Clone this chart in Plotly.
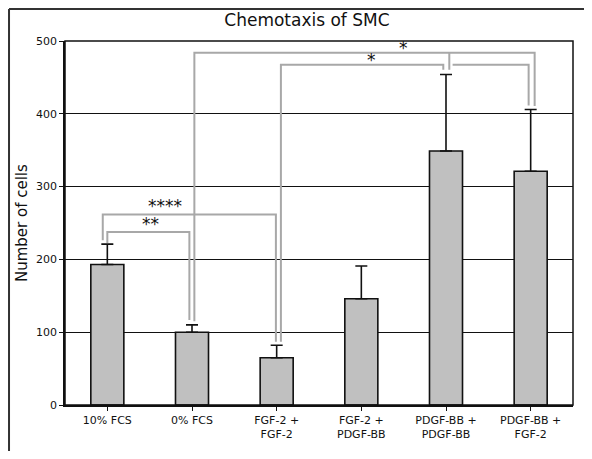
import plotly.graph_objects as go

categories = ["10% FCS", "0% FCS", "FGF-2 +<br>FGF-2", "FGF-2 +<br>PDGF-BB",
              "PDGF-BB +<br>PDGF-BB", "PDGF-BB +<br>FGF-2"]
means = [193, 100, 65, 146, 349, 321]
errors_up = [28, 10, 17, 45, 105, 85]
y_ticks = [0, 100, 200, 300, 400, 500]

# significance brackets: (x_left, x_right, y_top, y_left_end, y_right_end)
brackets = [
    (0.00, 0.969, 237.7, 222.6, 116.6),
    (-0.054, 1.991, 261.6, 226.3, 86.8),
    (1.028, 5.047, 483.8, 115.2, 410.6),
    (2.050, 3.968, 467.4, 86.8, 460.5),
    (4.078, 4.976, 467.4, 467.4, 411.5),
]
extra_verticals = [(4.039, 483.8, 460.5)]
sig_labels = [(0.506, 248, "**"), (0.683, 273, "****"), (3.50, 490, "*"), (3.117, 474, "*")]

font = "DejaVu Sans, Verdana, sans-serif"
x_idx = list(range(len(categories)))

fig = go.Figure()
fig.add_trace(go.Bar(
    x=x_idx, y=means, width=0.39,
    marker=dict(color="#c0c0c0", line=dict(color="#111111", width=1.6)),
    error_y=dict(type="data", array=errors_up, arrayminus=[0] * len(means),
                 symmetric=False, color="#111111", thickness=1.6, width=6),
))

shapes = []
gcol = "#a8a8a8"
for (xl, xr, yt, yl, yr) in brackets:
    shapes.append(dict(type="path", xref="x", yref="y",
                       path=f"M {xl},{yl} L {xl},{yt} L {xr},{yt} L {xr},{yr}",
                       line=dict(color=gcol, width=2)))
for (xv, y0, y1) in extra_verticals:
    shapes.append(dict(type="line", xref="x", yref="y", x0=xv, x1=xv, y0=y0, y1=y1,
                       line=dict(color=gcol, width=2)))
# outer frame: only top and left edges are visible in the picture
shapes.append(dict(type="line", xref="paper", yref="paper", x0=-0.1102, x1=1.05,
                   y0=1.0879, y1=1.0879, line=dict(color="#333333", width=2)))
shapes.append(dict(type="line", xref="paper", yref="paper", x0=-0.1102, x1=-0.1102,
                   y0=-0.2, y1=1.0879, line=dict(color="#333333", width=2)))
# plot area border
shapes.append(dict(type="rect", xref="paper", yref="paper", x0=0, x1=1, y0=0, y1=1,
                   line=dict(color="#111111", width=1.5), fillcolor="rgba(0,0,0,0)"))

annotations = [dict(x=x, y=y, text=t, xref="x", yref="y", showarrow=False,
                    font=dict(family=font, size=17, color="#111111"))
               for (x, y, t) in sig_labels]
annotations.append(dict(x=-0.0846, y=0.5, xref="paper", yref="paper", showarrow=False,
                        text="Number of cells", textangle=-90, xanchor="center",
                        yanchor="middle", font=dict(family=font, size=15, color="#111111")))

fig.update_layout(
    width=576, height=443,
    margin=dict(l=57, r=11, t=33, b=46, autoexpand=False),
    paper_bgcolor="white", plot_bgcolor="white",
    showlegend=False,
    title=dict(text="Chemotaxis of SMC", x=0.519, xanchor="center", y=0.972, yanchor="middle",
               font=dict(family=font, size=17, color="#111111")),
    shapes=shapes, annotations=annotations,
    xaxis=dict(tickmode="array", tickvals=x_idx, ticktext=categories, automargin=False,
               range=[-0.5, 5.5], showline=True, linecolor="#111111", linewidth=1.5,
               ticks="outside", ticklen=4, tickcolor="#111111", showgrid=False,
               tickfont=dict(family=font, size=11, color="#111111")),
    yaxis=dict(range=[0, 500], tickvals=y_ticks, showline=True, linecolor="#111111",
               linewidth=1.5, ticks="outside", ticklen=4, tickcolor="#111111",
               showgrid=True, gridcolor="#111111", gridwidth=1, zeroline=False,
               automargin=False,
               tickfont=dict(family=font, size=11, color="#111111")),
)
fig.write_html("out.html")
